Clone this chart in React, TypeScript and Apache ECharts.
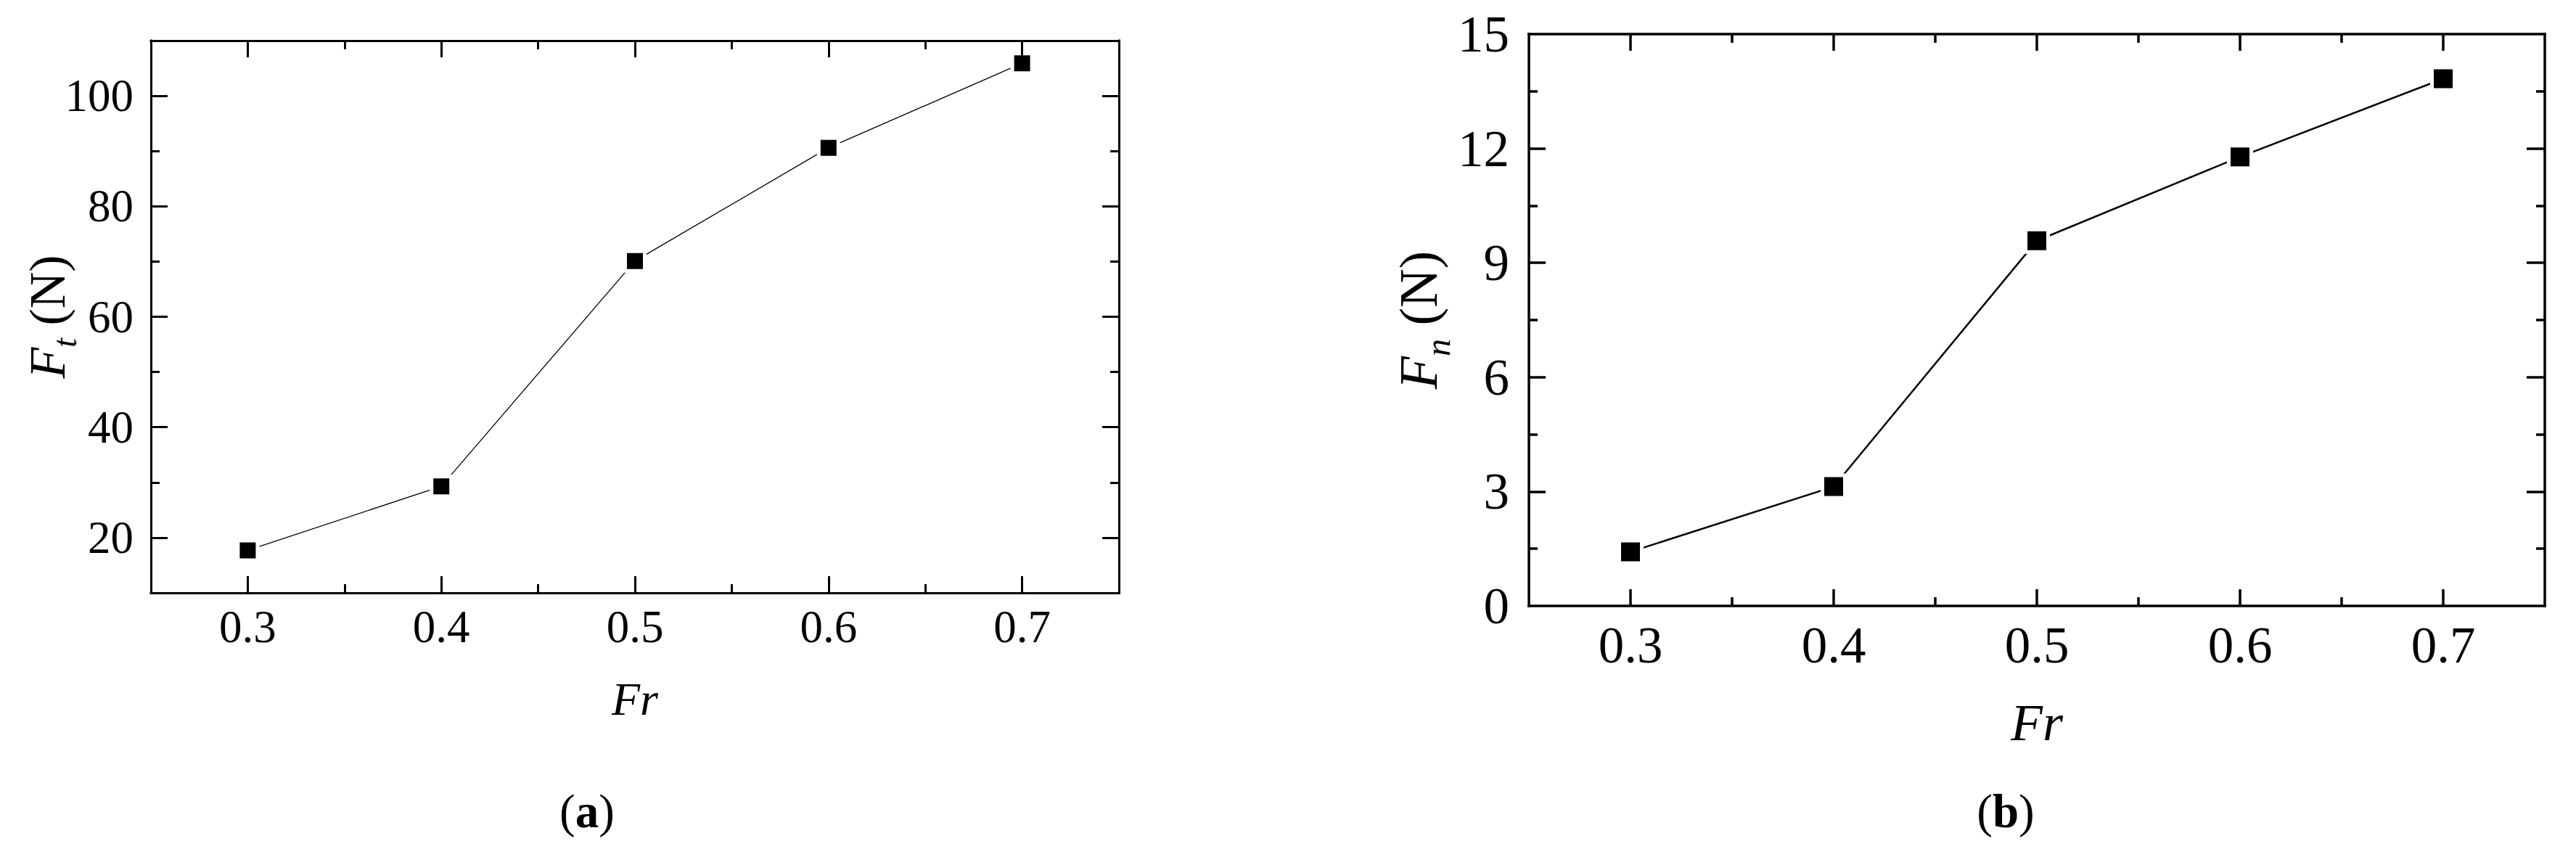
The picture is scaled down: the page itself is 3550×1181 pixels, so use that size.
import React, { useEffect, useRef } from 'react';
import * as echarts from 'echarts';

// ---- data ----
const FR = [0.3, 0.4, 0.5, 0.6, 0.7];
const FT = [17.7, 29.3, 70.1, 90.6, 105.9];
const FN = [1.42, 3.13, 9.58, 11.78, 13.83];

// ---- ticks / labels ----
const X_MAJOR = [0.3, 0.4, 0.5, 0.6, 0.7];
const X_MINOR = [0.35, 0.45, 0.55, 0.65];
const FT_LABELS = [20, 40, 60, 80, 100];
const FT_MAJOR = [20, 40, 60, 80, 100];
const FT_MINOR = [30, 50, 70, 90];
const FN_LABELS = [0, 3, 6, 9, 12, 15];
const FN_MAJOR = [3, 6, 9, 12];
const FN_MINOR = [1.5, 4.5, 7.5, 10.5, 13.5];

const FONT = "'Liberation Serif', 'Times New Roman', serif";

function buildAxes(c: any) {
  const line = (show: boolean) => ({
    show,
    onZero: false,
    lineStyle: { color: '#000', width: c.lw, cap: 'square' },
  });
  const tick = (vals: number[], len: number) => ({
    show: true,
    inside: true,
    length: len,
    customValues: vals,
    lineStyle: { color: '#000', width: c.lw },
  });
  const off = { show: false };
  const base = (dimMin: number, dimMax: number) => ({
    type: 'value',
    gridIndex: c.grid,
    min: dimMin,
    max: dimMax,
    splitLine: off,
    splitArea: off,
  });
  const xAxes = [
    {
      ...base(c.xMin, c.xMax),
      position: 'bottom',
      axisLine: line(true),
      axisTick: tick(c.xMajor, c.majLen),
      axisLabel: {
        show: true,
        customValues: c.xLabels,
        formatter: (v: number) => v.toFixed(1),
        margin: c.xMargin,
        fontSize: c.fs,
        fontFamily: FONT,
        color: '#000',
        showMinLabel: true,
        showMaxLabel: true,
      },
      name: 'Fr',
      nameLocation: 'middle',
      nameGap: c.xNameGap,
      nameMoveOverlap: false,
      nameTextStyle: { fontFamily: FONT, fontSize: c.xNameSize, fontStyle: 'italic', color: '#000' },
    },
    {
      ...base(c.xMin, c.xMax),
      position: 'bottom',
      axisLine: line(false),
      axisTick: tick(c.xMinor, c.minLen),
      axisLabel: off,
    },
    {
      ...base(c.xMin, c.xMax),
      position: 'top',
      z: 3,
      axisLine: line(true),
      axisTick: tick(c.xMajor, c.majLen),
      axisLabel: off,
    },
    {
      ...base(c.xMin, c.xMax),
      position: 'top',
      z: 3,
      axisLine: line(false),
      axisTick: tick(c.xMinor, c.minLen),
      axisLabel: off,
    },
  ];
  const yAxes = [
    {
      ...base(c.yMin, c.yMax),
      position: 'left',
      axisLine: line(true),
      axisTick: tick(c.yMajor, c.majLen),
      axisLabel: {
        show: true,
        customValues: c.yLabels,
        formatter: (v: number) => String(v),
        margin: c.yMargin,
        fontSize: c.fs,
        fontFamily: FONT,
        color: '#000',
        showMinLabel: true,
        showMaxLabel: true,
      },
      name: c.yName,
      nameLocation: 'middle',
      nameGap: c.yNameGap,
      nameRotate: 90,
      nameMoveOverlap: false,
      nameTextStyle: {
        fontFamily: FONT,
        fontSize: c.yNameSize,
        color: '#000',
        rich: {
          i: { fontFamily: FONT, fontSize: c.yNameSize, fontStyle: 'italic', color: '#000', verticalAlign: 'top' },
          s: {
            fontFamily: FONT,
            fontSize: c.ySubSize,
            fontStyle: 'italic',
            color: '#000',
            lineHeight: c.ySubLH,
            verticalAlign: 'bottom',
          },
          n: { fontFamily: FONT, fontSize: c.yNameSize, color: '#000', verticalAlign: 'top' },
        },
      },
    },
    {
      ...base(c.yMin, c.yMax),
      position: 'left',
      axisLine: line(false),
      axisTick: tick(c.yMinor, c.minLen),
      axisLabel: off,
    },
    {
      ...base(c.yMin, c.yMax),
      position: 'right',
      z: 3,
      axisLine: line(true),
      axisTick: tick(c.yMajor, c.majLenR),
      axisLabel: off,
    },
    {
      ...base(c.yMin, c.yMax),
      position: 'right',
      z: 3,
      axisLine: line(false),
      axisTick: tick(c.yMinor, c.minLen),
      axisLabel: off,
    },
  ];
  return { xAxes, yAxes };
}

export default function App() {
  const ref = useRef<HTMLDivElement>(null);

  useEffect(() => {
    if (!ref.current) return;
    const chart = echarts.init(ref.current, undefined, { renderer: 'svg' });

    const a = buildAxes({
      grid: 0,
      xMin: 0.25, xMax: 0.75, yMin: 10, yMax: 110,
      xMajor: X_MAJOR, xMinor: X_MINOR, xLabels: X_MAJOR,
      yMajor: FT_MAJOR, yMinor: FT_MINOR, yLabels: FT_LABELS,
      lw: 3, majLen: 23, majLenR: 23, minLen: 12, fs: 63,
      xMargin: 15, yMargin: 24,
      xNameGap: 114, xNameSize: 64,
      yName: '{i|F}{s|t}{n| (N)}', yNameGap: 96, yNameSize: 70, ySubSize: 46, ySubLH: 82,
    });
    const b = buildAxes({
      grid: 1,
      xMin: 0.25, xMax: 0.75, yMin: 0, yMax: 15,
      xMajor: X_MAJOR, xMinor: X_MINOR, xLabels: X_MAJOR,
      yMajor: FN_MAJOR, yMinor: FN_MINOR, yLabels: FN_LABELS,
      lw: 3.5, majLen: 23, majLenR: 25, minLen: 12, fs: 71,
      xMargin: 18, yMargin: 27,
      xNameGap: 125, xNameSize: 72,
      yName: '{i|F}{s|n}{n| (N)}', yNameGap: 102, yNameSize: 74, ySubSize: 48, ySubLH: 87,
    });

    const panelLabel = (x: number, letter: string) => ({
      type: 'text',
      x,
      y: 1118,
      style: {
        text: '{p|(}{b|' + letter + '}{p|)}',
        align: 'center',
        verticalAlign: 'middle',
        textAlign: 'center',
        textVerticalAlign: 'middle',
        fill: '#000',
        fontSize: 65,
        fontFamily: FONT,
        rich: {
          p: { fontFamily: FONT, fontSize: 65, fill: '#000' },
          b: { fontFamily: FONT, fontSize: 65, fontWeight: 'bold', fill: '#000' },
        },
      },
    });

    chart.setOption({
      animation: false,
      backgroundColor: '#fff',
      grid: [
        { left: 208, top: 56, width: 1334, height: 761, containLabel: false },
        { left: 2107, top: 47, width: 1400, height: 788, containLabel: false },
      ],
      xAxis: [...a.xAxes, ...b.xAxes],
      yAxis: [...a.yAxes, ...b.yAxes],
      series: [
        {
          type: 'line',
          xAxisIndex: 0,
          yAxisIndex: 0,
          data: FR.map((x, i) => [x, FT[i]]),
          symbol: 'rect',
          symbolSize: 27,
          showSymbol: true,
          lineStyle: { color: '#000', width: 1.3 },
          itemStyle: { color: '#000', borderColor: '#fff', borderWidth: 5 },
          emphasis: { disabled: true },
          silent: true,
          z: 2,
        },
        {
          type: 'line',
          xAxisIndex: 4,
          yAxisIndex: 4,
          data: FR.map((x, i) => [x, FN[i]]),
          symbol: 'rect',
          symbolSize: 31,
          showSymbol: true,
          lineStyle: { color: '#000', width: 2.5 },
          itemStyle: { color: '#000', borderColor: '#fff', borderWidth: 5 },
          emphasis: { disabled: true },
          silent: true,
          z: 2,
        },
      ],
      graphic: [panelLabel(809, 'a'), panelLabel(2764, 'b')],
    });

    return () => chart.dispose();
  }, []);

  return (
    <div
      ref={ref}
      style={{ position: 'fixed', left: 0, top: 0, width: '3550px', height: '1181px', background: '#fff' }}
    />
  );
}
